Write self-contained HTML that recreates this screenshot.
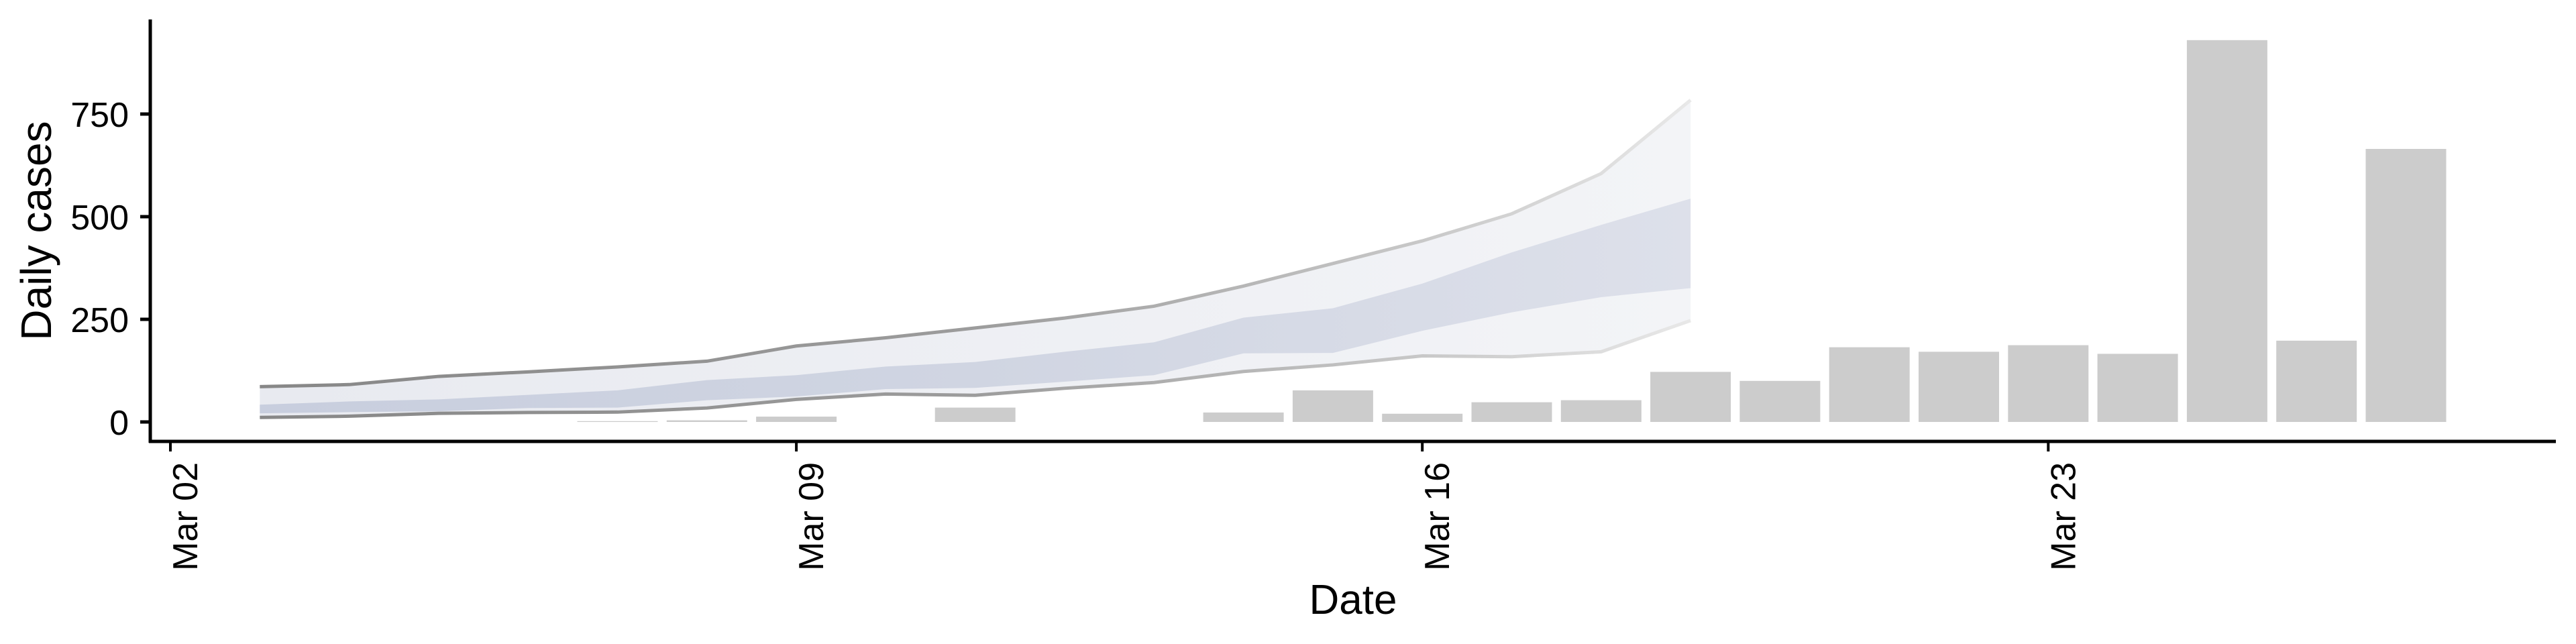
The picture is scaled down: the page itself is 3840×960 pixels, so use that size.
<!DOCTYPE html>
<html><head><meta charset="utf-8"><style>
html,body{margin:0;padding:0;background:#fff;}
svg{display:block;font-family:"Liberation Sans",sans-serif;}
</style></head><body>
<svg id="chart" width="3840" height="960" viewBox="0 0 3840 960" xmlns="http://www.w3.org/2000/svg">
<defs>
<linearGradient id="gOuter" gradientUnits="userSpaceOnUse" x1="387" y1="0" x2="2520" y2="0">
<stop offset="0" stop-color="#e8eaf0"/><stop offset="1" stop-color="#f3f4f7"/></linearGradient>
<linearGradient id="gInner" gradientUnits="userSpaceOnUse" x1="387" y1="0" x2="2520" y2="0">
<stop offset="0" stop-color="#c8cede"/><stop offset="0.5" stop-color="#d0d5e2"/><stop offset="1" stop-color="#dde0ea"/></linearGradient>
<linearGradient id="gLine" gradientUnits="userSpaceOnUse" x1="387" y1="0" x2="2520" y2="0">
<stop offset="0" stop-color="#878787"/><stop offset="0.5" stop-color="#9c9c9c"/><stop offset="0.8" stop-color="#c6c6c6"/><stop offset="1" stop-color="#e8e8e8"/></linearGradient>
</defs>
<g id="plot"></g>
<line x1="224" y1="29" x2="224" y2="660" stroke="#000" stroke-width="5"/>
<line x1="222" y1="658" x2="3810" y2="658" stroke="#000" stroke-width="5"/>
<text transform="translate(76,344) rotate(-90)" text-anchor="middle" font-size="64">Daily cases</text>
<text x="2017" y="915" text-anchor="middle" font-size="62">Date</text>
</svg>
<script>
const barDays = [5,6,7,9,12,13,14,15,16,17,18,19,20,21,22,23,24,25];
const barValues = [2,4,13,35,23,77,20,48,53,122,100,182,171,187,166,930,198,665];
const ribbonDays = [1,2,3,4,5,6,7,8,9,10,11,12,13,14,15,16,17];
const outerUpper = [86,91,111,122,134,148,185,205,229,253,282,331,386,441,507,605,784];
const outerLower = [11,14,21,23,24,34,55,68,65,82,96,123,139,161,159,171,247];
const innerUpper = [42,50,55,66,77,102,114,135,146,171,194,254,277,337,413,480,544];
const innerLower = [21,24,26,34,35,53,62,80,83,98,114,167,168,222,267,304,326];
const yTicks = [0,250,500,750];
const xTickDays = [0,7,14,21];
const xTickLabels = ["Mar 02","Mar 09","Mar 16","Mar 23"];

const NS = "http://www.w3.org/2000/svg";
const x = d => 254 + d * 133.3;
const y = v => 629 - v * 0.612;
const svg = document.getElementById('chart');
const plot = document.getElementById('plot');
function mk(tag, attrs, parent){ const e=document.createElementNS(NS,tag); for(const k in attrs) e.setAttribute(k,attrs[k]); (parent||plot).appendChild(e); return e; }
function band(up, lo){
  let p = ribbonDays.map((d,i)=>(i?'L':'M')+x(d)+','+y(up[i])).join(' ');
  for(let i=ribbonDays.length-1;i>=0;i--) p += ' L'+x(ribbonDays[i])+','+y(lo[i]);
  return p+' Z';
}
const outer = mk('path',{d:band(outerUpper,outerLower),fill:'url(#gOuter)'});


const inner = mk('path',{d:band(innerUpper,innerLower),fill:'url(#gInner)'});


[[outerUpper,'upper-bound-line'],[outerLower,'lower-bound-line']].forEach(([arr,nm])=>{
  const l = mk('polyline',{points:ribbonDays.map((d,i)=>x(d)+','+y(arr[i])).join(' '),fill:'none',stroke:'url(#gLine)','stroke-width':5});
  
  
});
barDays.forEach((d,i)=>{
  const b = mk('rect',{x:x(d)-60,y:y(barValues[i]),width:120,height:y(0)-y(barValues[i]),fill:'#cccccc'});
  
  
});
yTicks.forEach(v=>{
  const t = mk('line',{x1:209,x2:224,y1:y(v),y2:y(v),stroke:'#000','stroke-width':5},svg);
  
  
  const lb = mk('text',{x:192,y:y(v)+19,'text-anchor':'end','font-size':52},svg);
  lb.textContent = v;
  
  
});
xTickDays.forEach((d,i)=>{
  const t = mk('line',{x1:x(d),x2:x(d),y1:658,y2:673,stroke:'#000','stroke-width':4},svg);
  
  
  const lb = mk('text',{transform:'translate('+(x(d)+40)+',689) rotate(-90)','text-anchor':'end','font-size':52},svg);
  lb.textContent = xTickLabels[i];
  
  
});
</script>
</body></html>
